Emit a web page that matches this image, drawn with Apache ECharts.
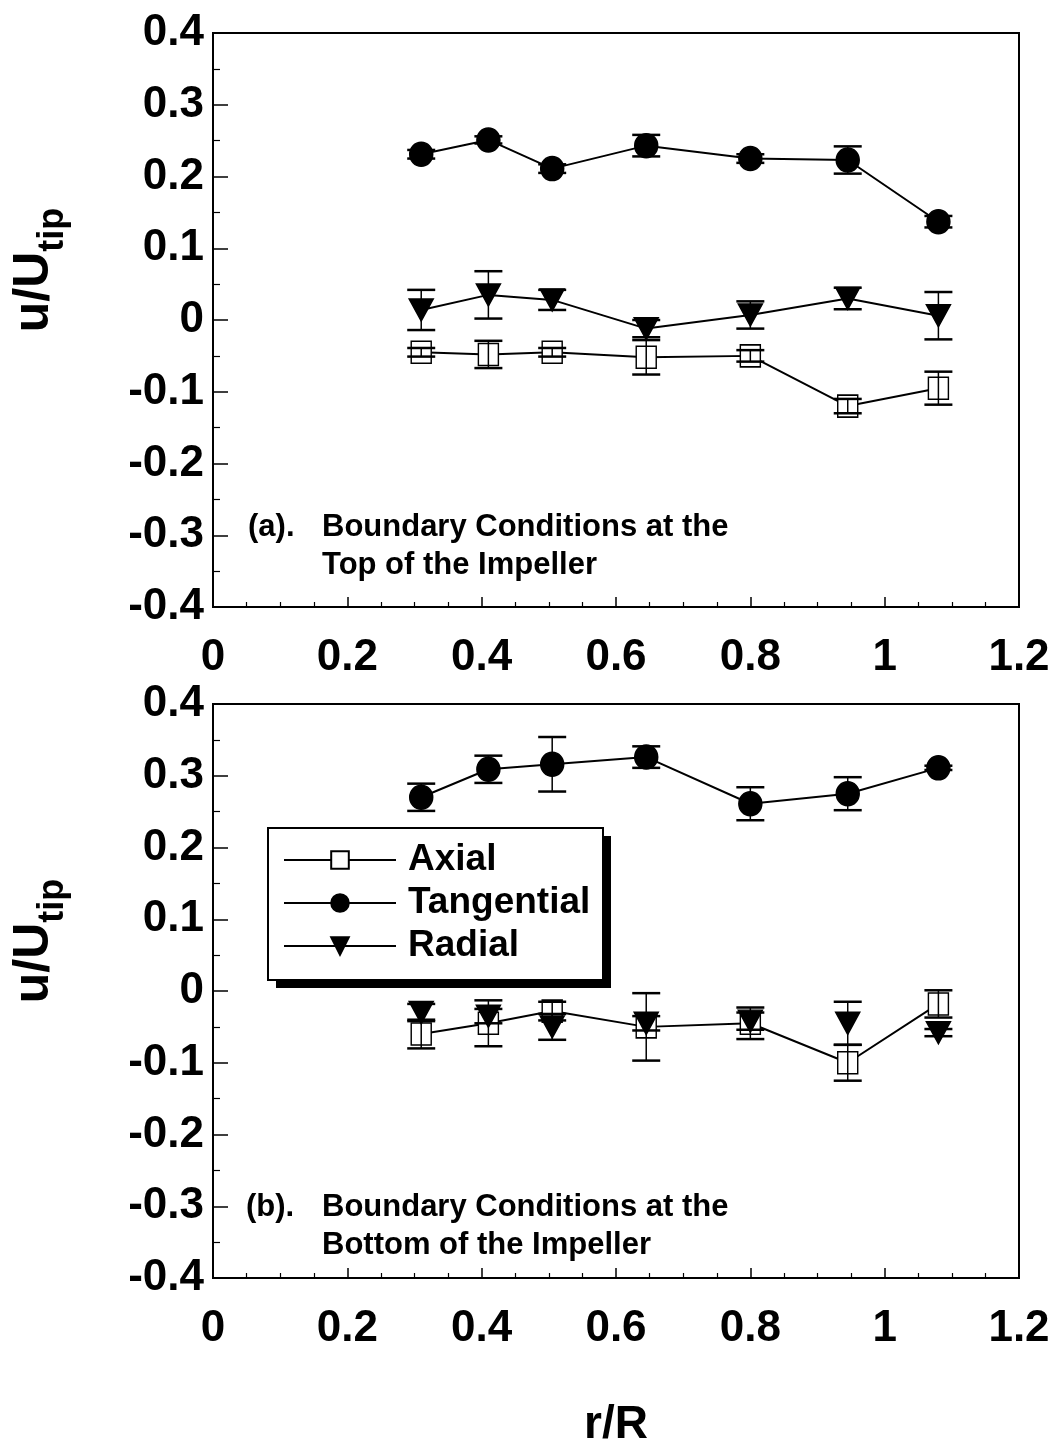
<!DOCTYPE html>
<html>
<head>
<meta charset="utf-8">
<script src="https://cdn.jsdelivr.net/npm/echarts@6/dist/echarts.min.js"></script>
<style>
html,body{margin:0;padding:0;background:#fff;}
#chart{width:1057px;height:1450px;}
</style>
</head>
<body>
<div id="chart"></div>
<script>
// ---- data ----
const rValues = [0.31, 0.41, 0.505, 0.645, 0.80, 0.945, 1.08];
const xTickLabels = ['0', '0.2', '0.4', '0.6', '0.8', '1', '1.2'];
const yTickLabels = ['-0.4', '-0.3', '-0.2', '-0.1', '0', '0.1', '0.2', '0.3', '0.4'];
const seriesNames = ['Axial', 'Tangential', 'Radial'];

// (a) top of the impeller
const topAxial = [-0.045, -0.048, -0.045, -0.052, -0.050, -0.120, -0.095];
const topAxialErr = [0.006, 0.019, 0.006, 0.024, 0.008, 0.010, 0.023];
const topTangential = [0.231, 0.251, 0.211, 0.243, 0.225, 0.223, 0.137];
const topTangentialErr = [0.006, 0.005, 0.006, 0.015, 0.006, 0.019, 0.008];
const topRadial = [0.014, 0.035, 0.028, -0.012, 0.007, 0.030, 0.006];
const topRadialErr = [0.028, 0.033, 0.014, 0.012, 0.019, 0.015, 0.033];

// (b) bottom of the impeller
const botAxial = [-0.060, -0.045, -0.028, -0.050, -0.045, -0.100, -0.018];
const botAxialErr = [0.020, 0.032, 0.013, 0.047, 0.022, 0.025, 0.019];
const botTangential = [0.270, 0.309, 0.316, 0.326, 0.261, 0.275, 0.311];
const botTangentialErr = [0.019, 0.019, 0.038, 0.015, 0.023, 0.023, 0.003];
const botRadial = [-0.030, -0.035, -0.050, -0.045, -0.042, -0.045, -0.058];
const botRadialErr = [0.012, 0.010, 0.018, 0.010, 0.012, 0.030, 0.005];

// ---- styling helpers ----
const FONT = '"Liberation Sans", Arial, sans-serif';
const downTri = 'path://M0,0 L24,0 L12,22 Z';

function pairs(vals) { return rValues.map((r, i) => [r, vals[i]]); }

function xAxisDef(gi, withName) {
  const a = {
    type: 'value', gridIndex: gi, min: 0, max: 1.2, interval: 0.2,
    axisLine: { show: true, onZero: false, lineStyle: { color: '#000', width: 2 } },
    axisTick: { show: true, inside: true, length: 10, lineStyle: { color: '#000', width: 1.5 } },
    minorTick: { show: true, splitNumber: 4, length: 5, lineStyle: { color: '#000', width: 1.2 } },
    splitLine: { show: false },
    axisLabel: {
      color: '#000', fontSize: 44, fontWeight: 'bold', fontFamily: FONT, margin: 29,
      formatter: v => xTickLabels[Math.round(v / 0.2)]
    }
  };
  if (withName) {
    a.name = 'r/R';
    a.nameLocation = 'middle';
    a.nameGap = 124;
    a.nameTextStyle = { color: '#000', fontSize: 46, fontWeight: 'bold', fontFamily: FONT };
  }
  return a;
}

function yAxisDef(gi) {
  return {
    type: 'value', gridIndex: gi, min: -0.4, max: 0.4, interval: 0.1,
    axisLine: { show: true, onZero: false, lineStyle: { color: '#000', width: 2 } },
    axisTick: { show: true, inside: true, length: 15, lineStyle: { color: '#000', width: 1.5 } },
    minorTick: { show: true, splitNumber: 2, length: 7, lineStyle: { color: '#000', width: 1.2 } },
    splitLine: { show: false },
    axisLabel: {
      color: '#000', fontSize: 44, fontWeight: 'bold', fontFamily: FONT, margin: 9,
      formatter: v => yTickLabels[Math.round((v + 0.4) / 0.1)]
    },
    name: '{a|u/U}{b|tip}',
    nameLocation: 'middle',
    nameRotate: 90,
    nameGap: 142,
    nameTextStyle: {
      padding: [0, 0, 0, 100],
      rich: {
        a: { fontSize: 50, fontWeight: 'bold', fontFamily: FONT, color: '#000', lineHeight: 62, verticalAlign: 'top' },
        b: { fontSize: 36, fontWeight: 'bold', fontFamily: FONT, color: '#000', lineHeight: 36, verticalAlign: 'bottom' }
      }
    }
  };
}

function lineSeries(name, gi, vals, symbol, size, filled, showLine) {
  return {
    type: 'line', name: name, xAxisIndex: gi, yAxisIndex: gi,
    data: pairs(vals), symbol: symbol, symbolSize: size, showSymbol: true,
    lineStyle: { color: '#000', width: showLine ? 2 : 0, opacity: showLine ? 1 : 0 },
    itemStyle: { color: filled ? '#000' : '#fff', borderColor: '#000', borderWidth: 1.5 },
    z: 3, animation: false
  };
}

function errSeries(gi, vals, errs) {
  return {
    type: 'custom', xAxisIndex: gi, yAxisIndex: gi, z: 4, silent: true, animation: false,
    data: rValues.map((r, i) => [r, vals[i] - errs[i], vals[i] + errs[i]]),
    encode: { x: 0, y: [1, 2] },
    renderItem: function (params, api) {
      const x = api.value(0);
      const lo = api.coord([x, api.value(1)]);
      const hi = api.coord([x, api.value(2)]);
      const w = 14;
      return {
        type: 'group', children: [
          { type: 'line', shape: { x1: lo[0], y1: lo[1], x2: hi[0], y2: hi[1] }, style: { stroke: '#000', lineWidth: 1.5 } },
          { type: 'line', shape: { x1: lo[0] - w, y1: lo[1], x2: lo[0] + w, y2: lo[1] }, style: { stroke: '#000', lineWidth: 2.5 } },
          { type: 'line', shape: { x1: hi[0] - w, y1: hi[1], x2: hi[0] + w, y2: hi[1] }, style: { stroke: '#000', lineWidth: 2.5 } }
        ]
      };
    }
  };
}

const annFont = 'bold 31px "Liberation Sans", Arial, sans-serif';

const option = {
  backgroundColor: '#fff',
  animation: false,
  grid: [
    { left: 213, right: 38, top: 33, height: 574, show: true, borderColor: '#000', borderWidth: 2, backgroundColor: 'transparent', containLabel: false, outerBoundsMode: 'none' },
    { left: 213, right: 38, top: 704, height: 574, show: true, borderColor: '#000', borderWidth: 2, backgroundColor: 'transparent', containLabel: false, outerBoundsMode: 'none' }
  ],
  xAxis: [xAxisDef(0, false), xAxisDef(1, true)],
  yAxis: [yAxisDef(0), yAxisDef(1)],
  legend: {
    data: seriesNames,
    orient: 'vertical',
    left: 268, top: 828,
    padding: [12, 12, 12, 15],
    itemWidth: 112, itemHeight: 22, itemGap: 3,
    z: 20,
    selectedMode: false,
    textStyle: { color: '#000', fontSize: 37, fontWeight: 'bold', fontFamily: FONT, lineHeight: 40, padding: [0, 0, 0, 7] }
  },
  graphic: [
    // legend frame with its offset solid shadow
    { type: 'rect', z: 10, shape: { x: 276, y: 836, width: 335, height: 152 }, style: { fill: '#000' } },
    { type: 'rect', z: 11, shape: { x: 268, y: 828, width: 335, height: 152 }, style: { fill: '#fff', stroke: '#000', lineWidth: 2 } },
    { type: 'text', left: 248, top: 512, style: { text: '(a).', font: annFont, fill: '#000' } },
    { type: 'text', left: 322, top: 512, style: { text: 'Boundary Conditions at the', font: annFont, fill: '#000' } },
    { type: 'text', left: 322, top: 550, style: { text: 'Top of the Impeller', font: annFont, fill: '#000' } },
    { type: 'text', left: 246, top: 1192, style: { text: '(b).', font: annFont, fill: '#000' } },
    { type: 'text', left: 322, top: 1192, style: { text: 'Boundary Conditions at the', font: annFont, fill: '#000' } },
    { type: 'text', left: 322, top: 1230, style: { text: 'Bottom of the Impeller', font: annFont, fill: '#000' } }
  ],
  series: [
    lineSeries('Axial', 0, topAxial, 'rect', [20, 22], false, true),
    lineSeries('Tangential', 0, topTangential, 'circle', [23, 24], true, true),
    lineSeries('Radial', 0, topRadial, downTri, [24, 22], true, true),
    errSeries(0, topAxial, topAxialErr),
    errSeries(0, topTangential, topTangentialErr),
    errSeries(0, topRadial, topRadialErr),
    lineSeries('Axial', 1, botAxial, 'rect', [20, 22], false, true),
    lineSeries('Tangential', 1, botTangential, 'circle', [23, 24], true, true),
    lineSeries('Radial', 1, botRadial, downTri, [24, 22], true, false),
    errSeries(1, botAxial, botAxialErr),
    errSeries(1, botTangential, botTangentialErr),
    errSeries(1, botRadial, botRadialErr)
  ]
};

const chart = echarts.init(document.getElementById('chart'), null, { renderer: 'canvas' });
chart.setOption(option);
</script>
</body>
</html>
